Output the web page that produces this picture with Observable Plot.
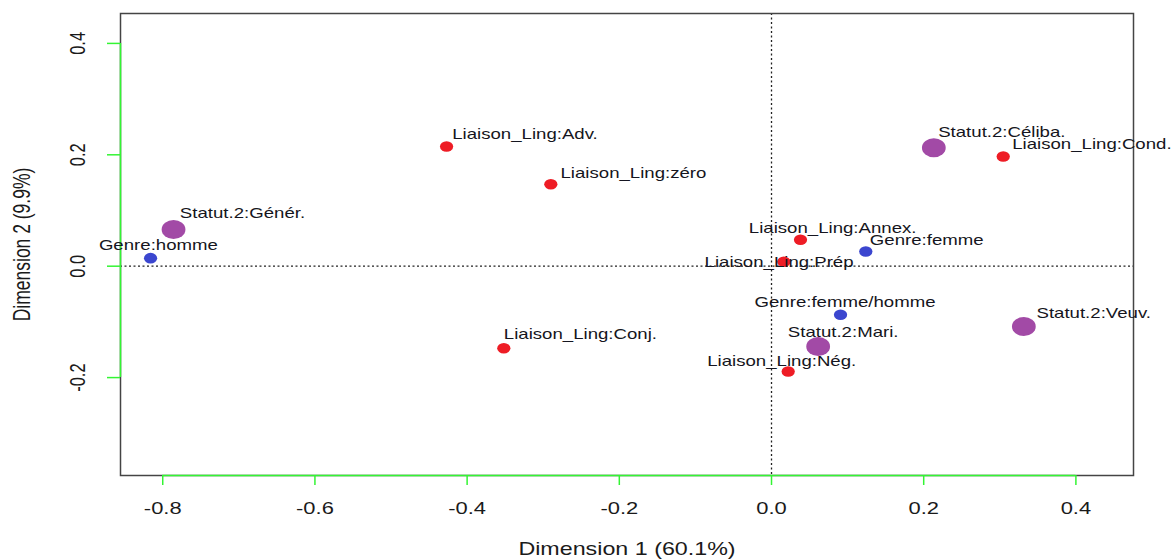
<!DOCTYPE html>
<html>
<head>
<meta charset="utf-8">
<script src="https://cdn.jsdelivr.net/npm/d3@7"></script>
<script src="https://cdn.jsdelivr.net/npm/@observablehq/plot@0.6"></script>
<style>
  html, body { margin: 0; padding: 0; background: #fff; }
  #chart svg { font-family: "Liberation Sans", Arial, sans-serif; }
</style>
</head>
<body>
<div id="chart"></div>
<script>
// ---- data ----
const names = [
  "Liaison_Ling:Adv.", "Liaison_Ling:zéro", "Liaison_Ling:Cond.", "Statut.2:Céliba.",
  "Statut.2:Génér.", "Genre:homme", "Liaison_Ling:Annex.", "Genre:femme",
  "Liaison_Ling:Prép", "Genre:femme/homme", "Statut.2:Mari.", "Liaison_Ling:Nég.",
  "Liaison_Ling:Conj.", "Statut.2:Veuv."
];
const groups = [
  "Liaison", "Liaison", "Liaison", "Statut",
  "Statut", "Genre", "Liaison", "Genre",
  "Liaison", "Genre", "Statut", "Liaison",
  "Liaison", "Statut"
];
const dim1 = [-0.427, -0.290, 0.3045, 0.2133, -0.7858, -0.816, 0.0381, 0.1239, 0.0162, 0.0907, 0.0613, 0.0219, -0.3518, 0.3316];
const dim2 = [0.215, 0.147, 0.197, 0.2126, 0.0659, 0.0144, 0.0474, 0.0264, 0.0079, -0.0873, -0.1442, -0.189, -0.1472, -0.1083];
// label anchor positions (start of text, vertical middle), in data units
const labelX = [-0.4196, -0.2773, 0.3163, 0.219, -0.7775, -0.8839, -0.0298, 0.1292, -0.088, -0.0223, 0.0214, -0.0845, -0.3518, 0.3482];
const labelY = [0.2364, 0.1664, 0.218, 0.2406, 0.094, 0.0372, 0.0671, 0.0461, 0.0072, -0.0646, -0.1185, -0.1711, -0.1226, -0.0855];

const groupNames = ["Liaison", "Genre", "Statut"];
const groupColors = ["#ee1c25", "#3b46cf", "#a24aa6"];
const groupRadius = [5.3, 5.3, 9.5];

const xTicks = [-0.8, -0.6, -0.4, -0.2, 0.0, 0.2, 0.4];
const yTicks = [-0.2, 0.0, 0.2, 0.4];
const xDomain = [-0.8555, 0.4757];
const yDomain = [-0.3758, 0.4537];
const xTitle = "Dimension 1 (60.1%)";
const yTitle = "Dimension 2 (9.9%)";

const rows = names.map((n, i) => ({name: n, group: groups[i], x: dim1[i], y: dim2[i], lx: labelX[i], ly: labelY[i]}));
const green = "#33f533";
const fmt = d => d.toFixed(1);

const dotMarks = groupNames.map((g, k) =>
  Plot.dot(rows.filter(d => d.group === g), {x: "x", y: "y", r: groupRadius[k], fill: groupColors[k], stroke: "none"})
);

const plot = Plot.plot({
  width: 1172,
  height: 559,
  marginLeft: 120,
  marginRight: 39,
  marginTop: 13,
  marginBottom: 84,
  x: {domain: xDomain},
  y: {domain: yDomain},
  style: {background: "#fff", color: "#1a1a1a"},
  marks: [
    Plot.ruleX([0], {stroke: "#222", strokeDasharray: "2,2.5", strokeWidth: 1.3}),
    Plot.ruleY([0], {stroke: "#222", strokeDasharray: "2,2.5", strokeWidth: 1.3}),
    Plot.frame({stroke: "#444", strokeWidth: 1.5}),
    Plot.ruleY([yDomain[0]], {x1: xTicks[0], x2: xTicks[xTicks.length - 1], stroke: green, strokeWidth: 1.5}),
    Plot.ruleX([xDomain[0]], {y1: yTicks[0], y2: yTicks[yTicks.length - 1], stroke: green, strokeWidth: 1.5}),
    Plot.axisX(xTicks, {tickSize: 10, stroke: green, strokeWidth: 1.5, fill: "none", label: null}),
    Plot.axisY(yTicks, {tickSize: 13, stroke: green, strokeWidth: 1.5, fill: "none", label: null}),
    Plot.text(xTicks, {x: d => d, frameAnchor: "bottom", dy: 33, text: fmt, fontSize: 16.5, fill: "#1a1a1a", textAnchor: "middle", lineAnchor: "middle"}),
    Plot.text(yTicks, {y: d => d, frameAnchor: "left", dx: -43, text: fmt, rotate: -90, fontSize: 16.5, fill: "#1a1a1a", textAnchor: "middle", lineAnchor: "middle"}),
    Plot.text([xTitle], {frameAnchor: "bottom", dy: 74, fontSize: 17.5, fill: "#1a1a1a", textAnchor: "middle", lineAnchor: "middle"}),
    Plot.text([yTitle], {frameAnchor: "left", dx: -98, rotate: -90, fontSize: 17.5, fill: "#1a1a1a", textAnchor: "middle", lineAnchor: "middle"}),
    ...dotMarks,
    Plot.text(rows, {x: "lx", y: "ly", text: "name", textAnchor: "start", lineAnchor: "middle", fontSize: 14, fill: "#151520"})
  ]
});

// the reference is horizontally stretched: stretch glyphs around their anchor points
const S = 1.33;
plot.querySelectorAll("text").forEach(t => {
  const tr = t.getAttribute("transform");
  if (tr && tr.startsWith("translate(")) {
    const i = tr.indexOf(")") + 1;
    t.setAttribute("transform", tr.slice(0, i) + ` scale(${S},1)` + tr.slice(i));
  } else if (tr) {
    t.setAttribute("transform", `scale(${S},1) ` + tr);
  } else {
    const x = +t.getAttribute("x") || 0, y = +t.getAttribute("y") || 0;
    t.removeAttribute("x"); t.removeAttribute("y");
    t.setAttribute("transform", `translate(${x},${y}) scale(${S},1)`);
  }
});
plot.querySelectorAll("circle").forEach(c => {
  const cx = +c.getAttribute("cx") || 0, cy = +c.getAttribute("cy") || 0;
  c.setAttribute("transform", `translate(${cx},${cy}) scale(1.25,1) translate(${-cx},${-cy})`);
});

document.getElementById("chart").appendChild(plot);
</script>
</body>
</html>
